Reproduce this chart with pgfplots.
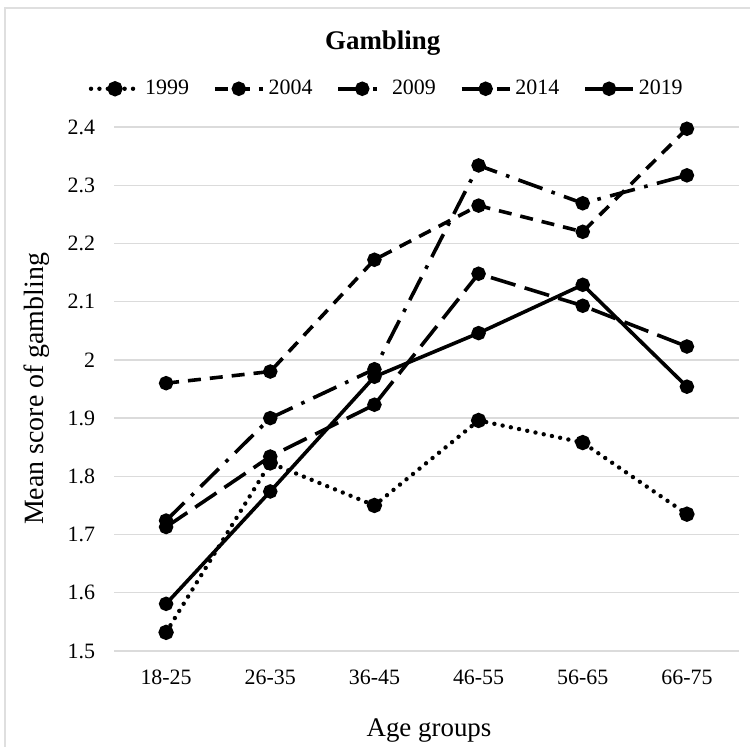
\documentclass[border=0pt]{standalone}
\usepackage{pgfplots}
\pgfplotsset{compat=1.18}
\usepackage{fontspec}
\setmainfont{Liberation Serif}
\begin{document}
\begin{tikzpicture}
\useasboundingbox (0,0) rectangle (375bp,373.5bp);
\draw[gray!25, line width=0.6bp] (2.5bp,0) -- (2.5bp,369.5bp) -- (375bp,369.5bp);
\begin{axis}[
  at={(57bp,48bp)}, anchor=south west,
  scale only axis, width=312.5bp, height=262bp,
  xmin=-0.5, xmax=5.5, ymin=1.5, ymax=2.4,
  xtick={0,1,2,3,4,5},
  xticklabels={18-25,26-35,36-45,46-55,56-65,66-75},
  ytick={1.5,1.6,1.7,1.8,1.9,2,2.1,2.2,2.3,2.4},
  yticklabels={1.5,1.6,1.7,1.8,1.9,2,2.1,2.2,2.3,2.4},
  axis line style={draw=none},
  major tick length=0pt,
  ymajorgrids, grid style={gray!28, line width=0.7bp},
  tick label style={font=\fontsize{11}{13}\selectfont, text=black},
  xticklabel style={yshift=-6bp},
  yticklabel style={xshift=-6bp},
  /pgf/number format/assume math mode=true,
  ylabel={Mean score of gambling},
  ylabel style={font=\fontsize{14}{16}\selectfont, at={(rel axis cs:-0.123,0.5)}, anchor=center, rotate=0},
  legend columns=5,
  legend style={draw=none, fill=none, font=\fontsize{11}{13}\selectfont,
    at={(rel axis cs:0.438,1.073)}, anchor=center,
    /tikz/every even column/.append style={column sep=10bp}},
  legend image code/.code={\draw[mark repeat=2,mark phase=2,#1] plot coordinates {(0bp,0bp)(12bp,0bp)(24bp,0bp)};},
  every axis plot/.append style={line width=1.8bp, black, mark=*, mark size=2.7bp, mark options={solid, fill=black}},
  clip=false,
]
\addplot[line cap=round, dash pattern=on 0bp off 4.2bp, line width=2.2bp] coordinates {(0,1.532)(1,1.823)(2,1.750)(3,1.896)(4,1.858)(5,1.735)};
\addlegendentry{1999}
\addplot[dash pattern=on 6.5bp off 4.5bp] coordinates {(0,1.960)(1,1.980)(2,2.172)(3,2.265)(4,2.220)(5,2.397)};
\addlegendentry{2004}
\addplot[dash pattern=on 12.8bp off 4.8bp on 1.8bp off 4.8bp] coordinates {(0,1.724)(1,1.900)(2,1.984)(3,2.334)(4,2.269)(5,2.317)};
\addlegendentry{2009}
\addplot[dash pattern=on 12.8bp off 4.8bp] coordinates {(0,1.713)(1,1.834)(2,1.923)(3,2.148)(4,2.093)(5,2.023)};
\addlegendentry{2014}
\addplot[solid] coordinates {(0,1.581)(1,1.774)(2,1.971)(3,2.046)(4,2.129)(5,1.954)};
\addlegendentry{2019}
\node[anchor=base, font=\fontsize{13.5}{16}\selectfont\bfseries] at (rel axis cs:0.43,1.147) {Gambling};
\node[anchor=base, font=\fontsize{13.5}{16}\selectfont] at (rel axis cs:0.504,-0.164) {Age groups};
\end{axis}
\end{tikzpicture}
\end{document}
